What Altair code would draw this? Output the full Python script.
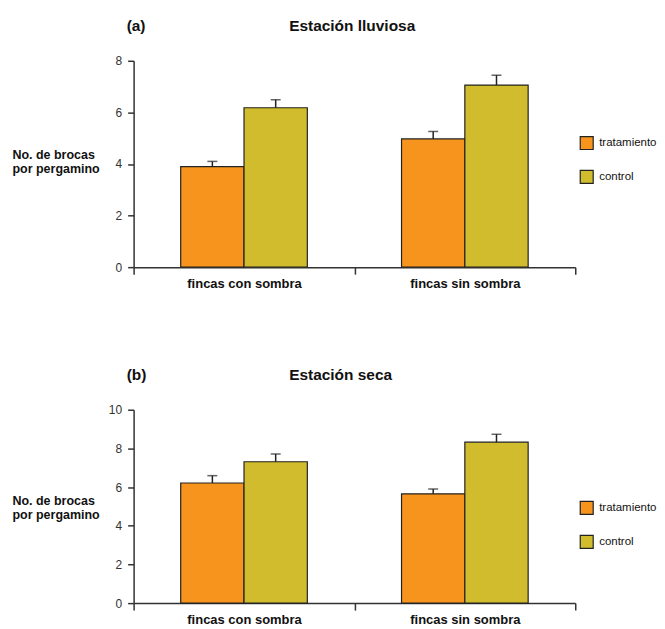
import altair as alt
import pandas as pd

categories = ["fincas con sombra", "fincas sin sombra"]
series = ["tratamiento", "control"]
colors = ["#F7941E", "#D1BC2E"]

# (a) Estación lluviosa
rainy_trat = [3.90, 4.97]
rainy_ctrl = [6.18, 7.06]
rainy_trat_err = [0.20, 0.29]
rainy_ctrl_err = [0.31, 0.38]
# (b) Estación seca
dry_trat = [6.21, 5.65]
dry_ctrl = [7.31, 8.32]
dry_trat_err = [0.38, 0.25]
dry_ctrl_err = [0.40, 0.41]

y_ticks_a = [0, 2, 4, 6, 8]
y_ticks_b = [0, 2, 4, 6, 8, 10]
y_title = ["No. de brocas", "por pergamino"]

FONT = "Liberation Sans"
W = 443


def frame(trat, ctrl, te, ce):
    rows = []
    for i, c in enumerate(categories):
        rows.append(dict(finca=c, grupo=series[0], valor=trat[i], err=te[i]))
        rows.append(dict(finca=c, grupo=series[1], valor=ctrl[i], err=ce[i]))
    df = pd.DataFrame(rows)
    df["sup"] = df["valor"] + df["err"]
    return df


def panel(df, letter, title, ymax, yticks, h, legend_y, title_shift):
    xaxis = alt.Axis(
        tickBand="extent", labelAngle=0, labelFont=FONT, labelFontWeight="bold",
        labelFontSize=13, labelColor="#111", labelPadding=3, tickSize=7,
        domainWidth=1.5, tickWidth=1.5, domainColor="#333", tickColor="#333",
    )
    x = alt.X("finca:N", sort=categories, title=None,
              scale=alt.Scale(paddingInner=0, paddingOuter=0), axis=xaxis)
    xo = alt.XOffset("grupo:N", sort=series,
                     scale=alt.Scale(domain=series, paddingOuter=0.744, paddingInner=0))
    yscale = alt.Scale(domain=[0, ymax], nice=False)
    yaxis = alt.Axis(
        values=yticks, title=y_title, titleAngle=0, titleAlign="left",
        titleBaseline="middle", titleX=-122, titleY=h / 2 + title_shift,
        titleFont=FONT, titleFontWeight="bold", titleFontSize=12.5,
        titleColor="#111", titleLineHeight=14,
        labelFont=FONT, labelFontSize=12, labelColor="#333", labelPadding=6,
        tickSize=6, tickWidth=1.5, domainWidth=1.5, domainColor="#333",
        tickColor="#333", grid=False,
    )
    base = alt.Chart(df)
    bars = base.mark_bar(stroke="#222", strokeWidth=1.2).encode(
        x=x, xOffset=xo,
        y=alt.Y("valor:Q", scale=yscale, axis=yaxis),
        color=alt.Color(
            "grupo:N", sort=series,
            scale=alt.Scale(domain=series, range=colors),
            legend=alt.Legend(
                title=None, orient="none", legendX=W + 4, legendY=legend_y,
                symbolType="square", symbolSize=169, symbolStrokeColor="#222",
                symbolStrokeWidth=1.2, labelFont=FONT, labelFontSize=11.5,
                labelColor="#111", rowPadding=15, labelOffset=5,
            ),
        ),
    )
    rule = base.mark_rule(color="#222", strokeWidth=1.5).encode(
        x=x, xOffset=xo,
        y=alt.Y("valor:Q", scale=yscale, axis=yaxis), y2="sup:Q",
    )
    cap = base.mark_tick(color="#222", size=10, thickness=1.5).encode(
        x=x, xOffset=xo,
        y=alt.Y("sup:Q", scale=yscale, axis=yaxis),
    )
    heads = alt.Chart(pd.DataFrame({"t": [letter, title], "px": [-7, 156]})).mark_text(
        font=FONT, fontSize=15.5, fontWeight="bold", color="#111",
        align="left", baseline="alphabetic", dy=-30,
    ).encode(text="t:N", x=alt.X("px:Q", scale=None), y=alt.value(0))
    return alt.layer(bars, rule, cap, heads).properties(width=W, height=h)


pa = panel(frame(rainy_trat, rainy_ctrl, rainy_trat_err, rainy_ctrl_err),
           "(a)", "Estación lluviosa", 8, y_ticks_a, 207, 75, -9)
pb = panel(frame(dry_trat, dry_ctrl, dry_trat_err, dry_ctrl_err),
           "(b)", "Estación seca", 10, y_ticks_b, 194, 91, -6)

chart = alt.vconcat(pa, pb, spacing=78).resolve_scale(
    y="independent", color="independent"
).resolve_legend(color="independent").properties(
    padding={"left": 4, "top": 10, "right": 0, "bottom": 0}
).configure_view(stroke=None)

chart.save("out.html", embed_options={"renderer": "svg", "actions": False})
